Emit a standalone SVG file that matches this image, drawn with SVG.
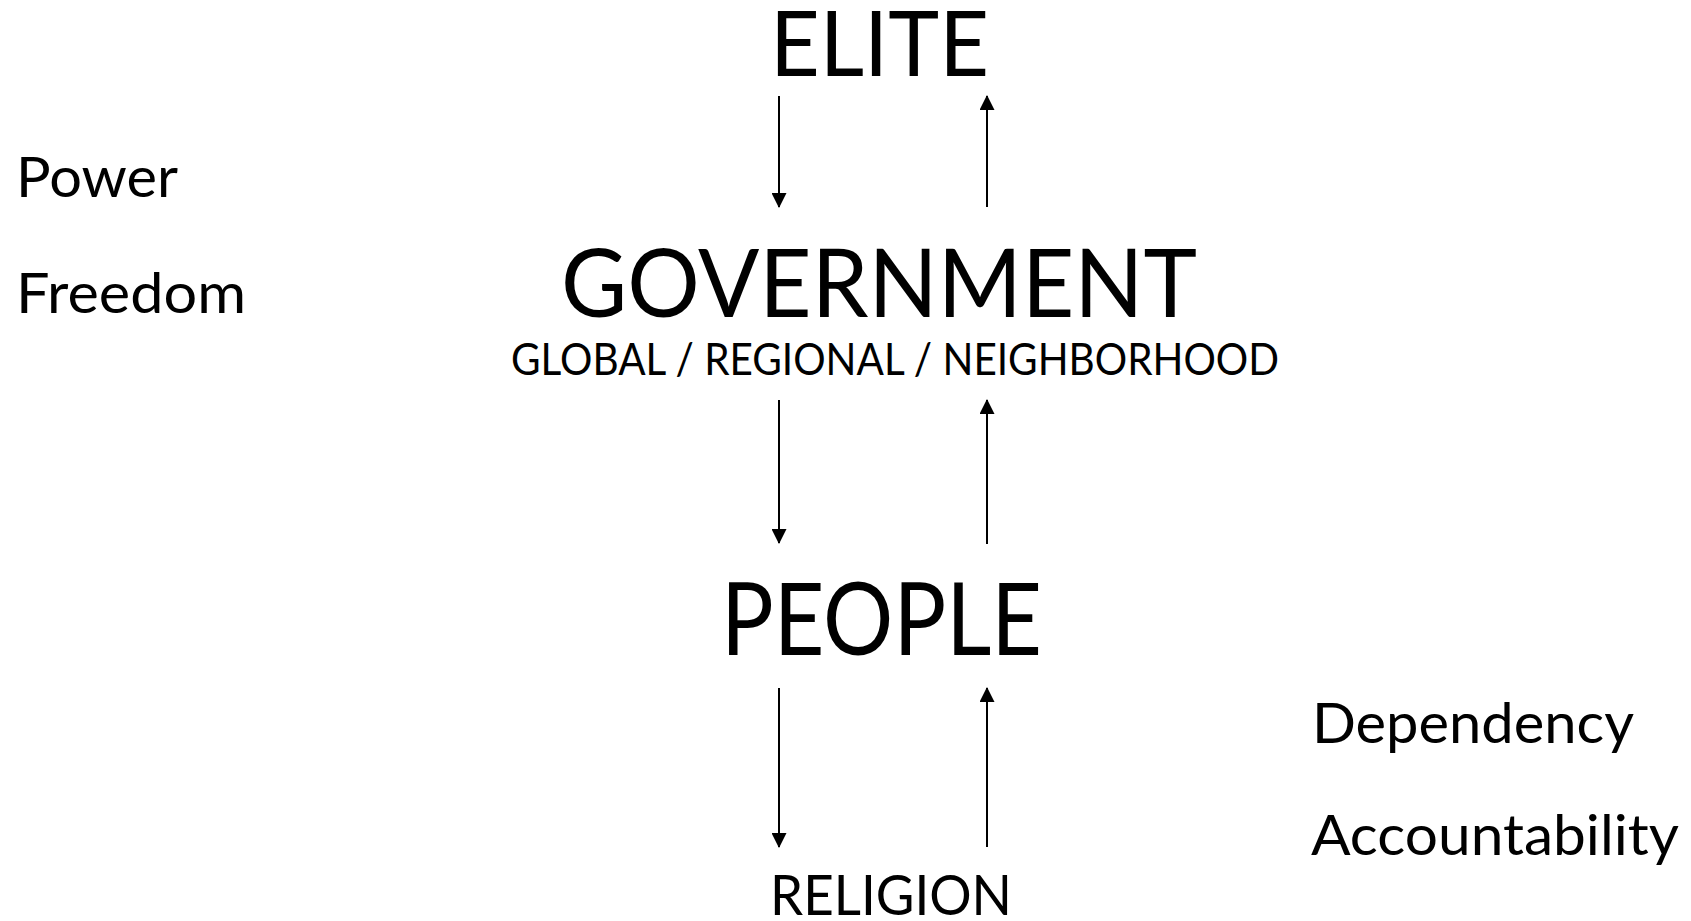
<svg xmlns="http://www.w3.org/2000/svg" width="1691" height="921" viewBox="0 0 1691 921">
<style>
text{font-family:Lato,"Liberation Sans",sans-serif;fill:#000;}
.c{stroke:#000;stroke-width:2;fill:none;}
</style>
<defs>
<marker id="ah" viewBox="0 0 15 15" refX="14" refY="7.5" markerWidth="15" markerHeight="15" markerUnits="userSpaceOnUse" orient="auto">
<path d="M0,0 L15,7.5 L0,15 Z" fill="#000"/>
</marker>
</defs>
<rect width="1691" height="921" fill="#fff"/>
<g id="elite"><text x="770" y="76" font-size="92" textLength="219" lengthAdjust="spacingAndGlyphs">ELITE</text></g>
<g id="government">
<text x="561" y="317" font-size="95" textLength="636" lengthAdjust="spacingAndGlyphs">GOVERNMENT</text>
<text x="511" y="375" font-size="45" textLength="768" lengthAdjust="spacingAndGlyphs">GLOBAL / REGIONAL / NEIGHBORHOOD</text>
</g>
<g id="people"><text x="721" y="655" font-size="100" textLength="321" lengthAdjust="spacingAndGlyphs">PEOPLE</text></g>
<g id="religion"><text x="770" y="915" font-size="57" textLength="242" lengthAdjust="spacingAndGlyphs">RELIGION</text></g>
<g id="power"><text x="16" y="197" font-size="56" textLength="162" lengthAdjust="spacingAndGlyphs">Power</text></g>
<g id="freedom"><text x="16" y="313" font-size="57" textLength="230" lengthAdjust="spacingAndGlyphs">Freedom</text></g>
<g id="dependency"><text x="1312" y="743" font-size="56" textLength="322" lengthAdjust="spacingAndGlyphs">Dependency</text></g>
<g id="accountability"><text x="1311" y="855" font-size="56" textLength="368" lengthAdjust="spacingAndGlyphs">Accountability</text></g>
<g id="connectors">
<line class="c" x1="779" y1="96" x2="779" y2="207" marker-end="url(#ah)"/>
<line class="c" x1="987" y1="207" x2="987" y2="96" marker-end="url(#ah)"/>
<line class="c" x1="779" y1="400" x2="779" y2="543" marker-end="url(#ah)"/>
<line class="c" x1="987" y1="544" x2="987" y2="400" marker-end="url(#ah)"/>
<line class="c" x1="779" y1="688" x2="779" y2="847" marker-end="url(#ah)"/>
<line class="c" x1="987" y1="847" x2="987" y2="688" marker-end="url(#ah)"/>
</g>
</svg>
